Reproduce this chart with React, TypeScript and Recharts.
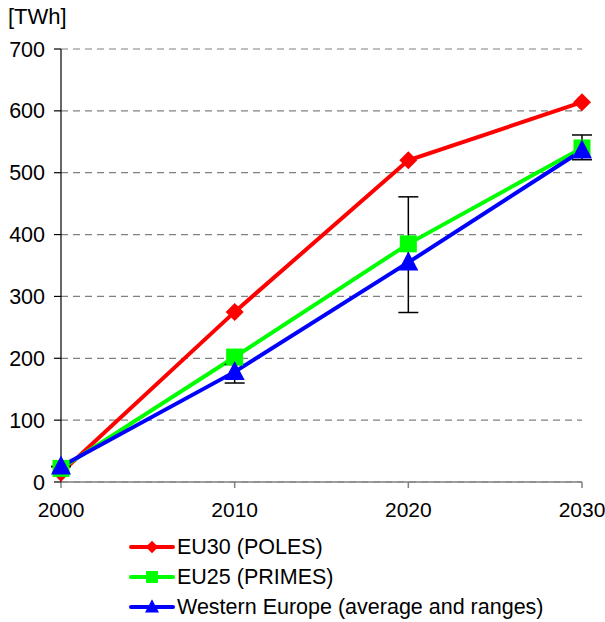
import React from "react";
import {
  CartesianGrid,
  ErrorBar,
  Line,
  LineChart,
  XAxis,
  YAxis,
} from "recharts";

const years = [2000, 2010, 2020, 2030];
const eu30Poles = [15, 275, 520, 614];
const eu25Primes = [22, 202, 385, 540];
const westernEurope = [25, 178, 355, 536];
const westernLow = [25, 160, 274, 521];
const westernHigh = [25, 190, 461, 561];
const yTicks = [0, 100, 200, 300, 400, 500, 600, 700];

const FONT = "Liberation Sans, Arial, sans-serif";

const data = years.map((year, i) => ({
  year,
  eu30: eu30Poles[i],
  eu25: eu25Primes[i],
  we: westernEurope[i],
  weRange: [westernEurope[i] - westernLow[i], westernHigh[i] - westernEurope[i]],
}));

function Diamond({ cx, cy, fill }: any) {
  if (cx == null || cy == null) return null;
  const r = 9;
  return (
    <path
      d={`M${cx},${cy - r}L${cx + r},${cy}L${cx},${cy + r}L${cx - r},${cy}Z`}
      fill={fill}
    />
  );
}

function Square({ cx, cy, fill }: any) {
  if (cx == null || cy == null) return null;
  const r = 8.5;
  return <rect x={cx - r} y={cy - r} width={r * 2} height={r * 2} fill={fill} />;
}

function Triangle({ cx, cy, fill }: any) {
  if (cx == null || cy == null) return null;
  const w = 10;
  return (
    <path
      d={`M${cx},${cy - 11}L${cx + w},${cy + 8}L${cx - w},${cy + 8}Z`}
      fill={fill}
    />
  );
}

const legendItems = [
  { label: "EU30 (POLES)", color: "#FF0000", Marker: Diamond },
  { label: "EU25 (PRIMES)", color: "#00FF00", Marker: Square },
  { label: "Western Europe (average and ranges)", color: "#0000FF", Marker: Triangle },
];

function ChartLegend() {
  return (
    <div style={{ position: "absolute", left: 128, top: 532, fontFamily: FONT }}>
      {legendItems.map((item) => (
        <div
          key={item.label}
          style={{ display: "flex", alignItems: "center", height: 30 }}
        >
          <svg width={48} height={24} style={{ marginRight: 1 }}>
            <line x1={3} y1={12} x2={45} y2={12} stroke={item.color} strokeWidth={4} strokeLinecap="round" />
            <g transform="translate(24 12) scale(0.7) translate(-24 -12)">
              <item.Marker cx={24} cy={12} fill={item.color} />
            </g>
          </svg>
          <span style={{ fontSize: 21.5, color: "#000", whiteSpace: "nowrap" }}>{item.label}</span>
        </div>
      ))}
    </div>
  );
}

export default function App() {
  return (
    <div
      style={{
        position: "absolute",
        left: 0,
        top: 0,
        width: 605,
        height: 622,
        overflow: "hidden",
        background: "#fff",
      }}
    >
      <div
        style={{
          position: "absolute",
          left: 8,
          top: 4,
          fontSize: 22,
          fontFamily: FONT,
          color: "#000",
        }}
      >
        [TWh]
      </div>
      <LineChart
        width={605}
        height={622}
        data={data}
        margin={{ top: 49, right: 23, left: 0, bottom: 100 }}
        style={{ overflow: "visible" }}
      >
        <CartesianGrid
          horizontal
          vertical={false}
          stroke="#808080"
          strokeWidth={1.2}
          strokeDasharray="7 5"
        />
        <XAxis
          dataKey="year"
          type="number"
          domain={[2000, 2030]}
          ticks={years}
          height={40}
          stroke="#808080"
          strokeWidth={1.5}
          tickSize={6}
          tickMargin={14}
          tick={{ fontSize: 21, fill: "#000", fontFamily: FONT }}
        />
        <YAxis
          domain={[0, 700]}
          ticks={yTicks}
          width={61}
          stroke="#000"
          strokeWidth={1.2}
          tickSize={7}
          tickMargin={9}
          tick={{ fontSize: 21.5, fill: "#000", fontFamily: FONT }}
        />
        <Line
          dataKey="eu30"
          stroke="#FF0000"
          strokeWidth={4}
          dot={(p: any) => <Diamond key={`d${p.index}`} cx={p.cx} cy={p.cy} fill="#FF0000" />}
          isAnimationActive={false}
        />
        <Line
          dataKey="eu25"
          stroke="#00FF00"
          strokeWidth={4}
          dot={(p: any) => <Square key={`s${p.index}`} cx={p.cx} cy={p.cy} fill="#00FF00" />}
          isAnimationActive={false}
        />
        <Line
          dataKey="we"
          stroke="#0000FF"
          strokeWidth={4}
          dot={(p: any) => <Triangle key={`t${p.index}`} cx={p.cx} cy={p.cy} fill="#0000FF" />}
          isAnimationActive={false}
        >
          <ErrorBar
            dataKey="weRange"
            direction="y"
            width={10}
            stroke="#000"
            strokeWidth={1.5}
            isAnimationActive={false}
          />
        </Line>
      </LineChart>
      <ChartLegend />
    </div>
  );
}
